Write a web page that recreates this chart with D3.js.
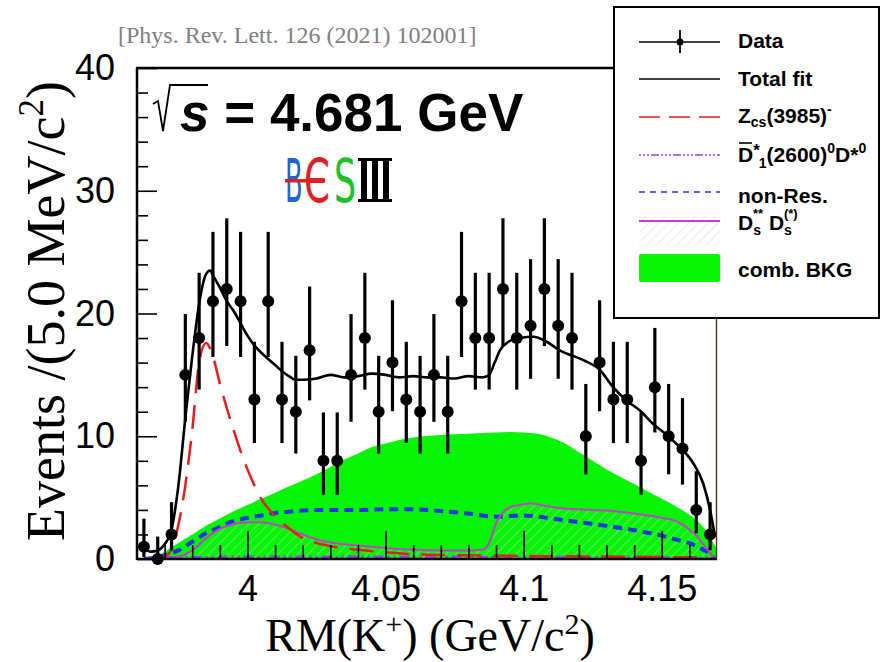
<!DOCTYPE html>
<html>
<head>
<meta charset="utf-8">
<script src="https://cdn.jsdelivr.net/npm/d3@7/dist/d3.min.js"></script>
<style>
  body { margin: 0; background: #fff; }
  svg text { font-family: "Liberation Sans", Arial, Helvetica, sans-serif; }
  .serif { font-family: "Liberation Serif", "Times New Roman", serif !important; }
</style>
</head>
<body>
<div id="chart"></div>
<script>
// ---- data ----
let binCenters = [3.9625, 3.9675, 3.9725, 3.9775, 3.9825, 3.9875, 3.9925, 3.9975, 4.0025, 4.0075,
                  4.0125, 4.0175, 4.0225, 4.0275, 4.0325, 4.0375, 4.0425, 4.0475, 4.0525, 4.0575,
                  4.0625, 4.0675, 4.0725, 4.0775, 4.0825, 4.0875, 4.0925, 4.0975, 4.1025, 4.1075,
                  4.1125, 4.1175, 4.1225, 4.1275, 4.1325, 4.1375, 4.1425, 4.1475, 4.1525, 4.1575,
                  4.1625, 4.1675];
let counts = [1, 0, 2, 15, 18, 21, 22, 21, 13, 21, 13, 12, 17, 8, 8, 15, 18, 12, 16, 13, 12,
              15, 12, 21, 18, 18, 22, 18, 19, 22, 19, 18, 10, 16, 13, 13, 8, 14, 10, 9, 4, 2];

let fitX = [3.9625, 3.965, 3.9675, 3.97, 3.9725, 3.975, 3.9775, 3.98, 3.9825, 3.985, 3.9865, 3.9875,
            3.99, 3.9925, 3.995, 3.9975, 4.0, 4.0025, 4.005, 4.0075, 4.01, 4.0125, 4.015, 4.0175,
            4.02, 4.025, 4.03, 4.035, 4.04, 4.045, 4.05, 4.055, 4.06, 4.065, 4.07, 4.075, 4.08,
            4.085, 4.0875, 4.0895, 4.0914, 4.0945, 4.0987, 4.1035, 4.1083, 4.1131, 4.1216, 4.1276,
            4.1324, 4.1373, 4.1421, 4.1469, 4.1518, 4.1566, 4.1614, 4.165, 4.1675, 4.1693];
let fitY = [0.9, 0.6, 0.7, 1.2, 2.4, 6.0, 11.5, 16.5, 20.8, 23.2, 23.5, 23.1,
            22.1, 21.0, 20.2, 19.2, 18.2, 17.4, 16.8, 16.3, 15.8, 15.3, 14.9, 14.6,
            14.6, 14.7, 15.0, 14.8, 14.9, 15.1, 15.0, 14.8, 14.9, 14.8, 14.8, 14.7, 14.9,
            14.8, 15.0, 16.0, 17.0, 17.7, 18.0, 18.1, 17.7, 17.0, 16.2, 15.4,
            14.0, 12.9, 12.1, 11.0, 10.1, 9.1, 7.8, 6.15, 4.0, 1.8];

let zcsX = [3.966, 3.97, 3.9725, 3.975, 3.9775, 3.98, 3.9825, 3.985, 3.9875, 3.99, 3.9925, 3.995,
            3.9975, 4.0, 4.0025, 4.005, 4.01, 4.015, 4.02, 4.025, 4.03, 4.04, 4.05, 4.06, 4.08,
            4.1, 4.13, 4.16, 4.169];
let zcsY = [0, 0.2, 0.8, 2.8, 6.0, 10.5, 16.0, 17.6, 16.5, 14.3, 12.3, 10.5,
            8.8, 7.3, 6.0, 4.9, 3.5, 2.5, 1.7, 1.3, 1.05, 0.75, 0.55, 0.4, 0.3,
            0.25, 0.2, 0.12, 0];

let bkgX = [3.9625, 3.966, 3.97, 3.975, 3.98, 3.985, 3.99, 3.995, 4.0, 4.005, 4.01, 4.015, 4.02,
            4.025, 4.03, 4.035, 4.04, 4.045, 4.05, 4.055, 4.06, 4.07, 4.08, 4.09, 4.095, 4.1,
            4.105, 4.11, 4.115, 4.12, 4.125, 4.13, 4.135, 4.14, 4.145, 4.15, 4.155, 4.16, 4.165,
            4.1675, 4.17];
let bkgY = [0, 0.1, 0.6, 1.3, 2.0, 2.7, 3.3, 3.9, 4.4, 4.9, 5.4, 5.9, 6.4,
            6.9, 7.5, 8.1, 8.6, 9.1, 9.4, 9.7, 9.9, 10.1, 10.2, 10.3, 10.35, 10.3,
            10.2, 9.9, 9.4, 8.7, 8.0, 7.3, 6.7, 6.1, 5.5, 4.9, 4.3, 3.6, 2.6,
            1.8, 0.8];

let nonResX = [3.9625, 3.966, 3.97, 3.975, 3.98, 3.985, 3.99, 3.995, 4.0, 4.005, 4.01, 4.015,
               4.02, 4.03, 4.04, 4.05, 4.06, 4.07, 4.08, 4.09, 4.1, 4.11, 4.12, 4.13, 4.14,
               4.15, 4.155, 4.16, 4.165, 4.1675, 4.169];
let nonResY = [0, 0.1, 0.3, 0.7, 1.4, 2.1, 2.6, 3.1, 3.35, 3.55, 3.75, 3.85,
               3.95, 4.0, 4.0, 4.05, 4.05, 3.9, 3.7, 3.45, 3.55, 3.3, 3.0, 2.7, 2.35,
               1.9, 1.6, 1.3, 0.75, 0.4, 0];

let dsX = [3.9625, 3.97, 3.975, 3.98, 3.985, 3.99, 3.995, 4.0, 4.005, 4.01, 4.015, 4.02, 4.025,
           4.03, 4.04, 4.05, 4.06, 4.07, 4.08, 4.085, 4.0875, 4.09, 4.0925, 4.095, 4.1, 4.1025,
           4.105, 4.11, 4.115, 4.12, 4.13, 4.14, 4.15, 4.155, 4.16, 4.1625, 4.165, 4.1675, 4.169];
let dsY = [0, 0.1, 0.2, 0.7, 1.7, 2.45, 2.85, 3.0, 3.0, 2.8, 2.45, 2.0, 1.6,
           1.35, 1.1, 0.9, 0.75, 0.7, 0.7, 0.75, 1.3, 2.9, 3.8, 4.2, 4.45, 4.55,
           4.45, 4.25, 4.1, 4.05, 3.95, 3.7, 3.35, 3.1, 2.4, 1.9, 1.2, 0.5, 0];

let d1X = [3.966, 4.0, 4.05, 4.1, 4.169];
let d1Y = [0.05, 0.12, 0.12, 0.1, 0.05];

let xMajor = [4, 4.05, 4.1, 4.15];
let xMinor = [3.97, 3.98, 3.99, 4.01, 4.02, 4.03, 4.04, 4.06, 4.07, 4.08, 4.09, 4.11, 4.12, 4.13, 4.14, 4.16];
let yMajor = [0, 10, 20, 30, 40];
let yMinor = [2, 4, 6, 8, 12, 14, 16, 18, 22, 24, 26, 28, 32, 34, 36, 38];

// ---- layout ----
let width = 881, height = 662;
let svg = d3.select("#chart").append("svg")
  .attr("width", width)
  .attr("height", height)
  .style("background", "#fff");

let x = d3.scaleLinear().domain([3.96, 4.17]).range([137, 717]);
let y = d3.scaleLinear().domain([0, 40]).range([559, 68]);

function pts(xs, ys) { return xs.map((v, i) => [v, ys[i]]); }

let line = d3.line().x(d => x(d[0])).y(d => y(d[1])).curve(d3.curveMonotoneX);
let area = d3.area().x(d => x(d[0])).y0(y(0)).y1(d => y(d[1])).curve(d3.curveMonotoneX);

let defs = svg.append("defs");
let pat = defs.append("pattern")
  .attr("id", "hatch")
  .attr("patternUnits", "userSpaceOnUse")
  .attr("width", 7).attr("height", 7)
  .attr("patternTransform", "rotate(45)");
pat.append("line").attr("x1", 0).attr("y1", 0).attr("x2", 0).attr("y2", 7)
  .attr("stroke", "#d8d0dc").attr("stroke-width", 1.2).attr("opacity", 0.75);

let clip = defs.append("clipPath").attr("id", "plotClip");
clip.append("rect").attr("x", 137).attr("y", 68).attr("width", 580).attr("height", 491);

let plot = svg.append("g").attr("clip-path", "url(#plotClip)");

// comb. BKG
plot.append("path")
  .attr("d", area(pts(bkgX, bkgY)))
  .attr("fill", "#05f505");

// Ds** Ds(*) hatched
plot.append("path")
  .attr("d", area(pts(dsX, dsY)))
  .attr("fill", "url(#hatch)");

// non-Res
plot.append("path")
  .attr("d", line(pts(nonResX, nonResY)))
  .attr("fill", "none").attr("stroke", "#1f35e0").attr("stroke-width", 4)
  .attr("stroke-dasharray", "9,6");

plot.append("path")
  .attr("d", line(pts(dsX, dsY)))
  .attr("fill", "none").attr("stroke", "#c040c8").attr("stroke-width", 2);

// D1*(2600) D*
plot.append("path")
  .attr("d", line(pts(d1X, d1Y)))
  .attr("fill", "none").attr("stroke", "#9a40f0").attr("stroke-width", 4)
  .attr("stroke-dasharray", "2,4,2,4,10,4");

// Zcs
plot.append("path")
  .attr("d", line(pts(zcsX, zcsY)))
  .attr("fill", "none").attr("stroke", "#e41e1e").attr("stroke-width", 2.5)
  .attr("stroke-dasharray", "24,12");

// total fit
plot.append("path")
  .attr("d", line(pts(fitX, fitY)))
  .attr("fill", "none").attr("stroke", "#000").attr("stroke-width", 2.6);

// data with Poisson (Gehrels) error bars
let dataPts = binCenters.map((v, i) => {
  let n = counts[i];
  let up = (n + 1) * Math.pow(1 - 1 / (9 * (n + 1)) + 1 / (3 * Math.sqrt(n + 1)), 3);
  let lo = n === 0 ? 0 : n * Math.pow(1 - 1 / (9 * n) - 1 / (3 * Math.sqrt(n)), 3);
  return { x: v, n: n, up: up, lo: lo };
});

let dataG = svg.append("g");
dataG.selectAll("line.err")
  .data(dataPts)
  .join("line")
  .attr("class", "err")
  .attr("x1", d => x(d.x)).attr("x2", d => x(d.x))
  .attr("y1", d => y(d.lo)).attr("y2", d => y(d.up))
  .attr("stroke", "#000").attr("stroke-width", 3.2);
dataG.selectAll("circle")
  .data(dataPts)
  .join("circle")
  .attr("cx", d => x(d.x)).attr("cy", d => y(d.n))
  .attr("r", 6)
  .attr("fill", "#000");

// ---- axes ----
let xAxis = d3.axisBottom(x).tickValues(xMajor).tickSizeInner(-28).tickSizeOuter(0).tickPadding(16)
  .tickFormat(d3.format("~g"));
let gx = svg.append("g").attr("transform", "translate(0,559)").call(xAxis);
gx.select(".domain").remove();
gx.selectAll("line").attr("stroke", "#000").attr("stroke-width", 1.6);
gx.selectAll("text").attr("font-size", 36).attr("fill", "#000");

let gxm = svg.append("g").attr("transform", "translate(0,559)")
  .call(d3.axisBottom(x).tickValues(xMinor).tickSizeInner(-14).tickSizeOuter(0).tickFormat(""));
gxm.select(".domain").remove();
gxm.selectAll("line").attr("stroke", "#000").attr("stroke-width", 1.6);

let yAxis = d3.axisLeft(y).tickValues(yMajor).tickSizeInner(-20).tickSizeOuter(0).tickPadding(22);
let gy = svg.append("g").attr("transform", "translate(137,0)").call(yAxis);
gy.select(".domain").remove();
gy.selectAll("line").attr("stroke", "#000").attr("stroke-width", 1.6);
gy.selectAll("text").attr("font-size", 36).attr("fill", "#000");

let gym = svg.append("g").attr("transform", "translate(137,0)")
  .call(d3.axisLeft(y).tickValues(yMinor).tickSizeInner(-11).tickSizeOuter(0).tickFormat(""));
gym.select(".domain").remove();
gym.selectAll("line").attr("stroke", "#000").attr("stroke-width", 1.6);

// frame
svg.append("line").attr("x1", 137).attr("x2", 717).attr("y1", 559).attr("y2", 559)
  .attr("stroke", "#000").attr("stroke-width", 2.5);
svg.append("line").attr("x1", 137).attr("x2", 137).attr("y1", 68).attr("y2", 560)
  .attr("stroke", "#000").attr("stroke-width", 2.5);
svg.append("line").attr("x1", 136).attr("x2", 717).attr("y1", 68).attr("y2", 68)
  .attr("stroke", "#000").attr("stroke-width", 2.5);
svg.append("line").attr("x1", 716.5).attr("x2", 716.5).attr("y1", 68).attr("y2", 559)
  .attr("stroke", "#5a2a2a").attr("stroke-width", 1.4);

// axis titles
let xt = svg.append("text").attr("class", "serif")
  .attr("x", 430).attr("y", 651).attr("text-anchor", "middle")
  .attr("font-size", 46).attr("fill", "#000");
xt.append("tspan").text("RM(K");
xt.append("tspan").attr("dy", -17).attr("font-size", 30).text("+");
xt.append("tspan").attr("dy", 17).text(") (GeV/c");
xt.append("tspan").attr("dy", -17).attr("font-size", 30).text("2");
xt.append("tspan").attr("dy", 17).text(")");

let yt = svg.append("text").attr("class", "serif")
  .attr("transform", "translate(64,311) rotate(-90)")
  .attr("text-anchor", "middle")
  .attr("font-size", 54).attr("fill", "#000");
yt.append("tspan").text("Events /(5.0 MeV/c");
yt.append("tspan").attr("dy", -21).attr("font-size", 35).text("2");
yt.append("tspan").attr("dy", 21).text(")");

// reference
svg.append("text").attr("class", "serif")
  .attr("x", 118).attr("y", 43)
  .attr("font-size", 24).attr("fill", "#808080")
  .text("[Phys. Rev. Lett. 126 (2021) 102001]");

// energy label
svg.append("path")
  .attr("d", "M153,104 L158,101 L163,131 L170,85 L208,85")
  .attr("fill", "none").attr("stroke", "#000").attr("stroke-width", 1.8);
let en = svg.append("text").attr("x", 180).attr("y", 131)
  .attr("font-size", 53).attr("font-weight", "bold").attr("fill", "#000");
en.append("tspan").attr("font-style", "italic").text("s");
en.append("tspan").text(" = 4.681 GeV");

// BESIII logo, letters squeezed horizontally
let logo = svg.append("g").style("font-family", "'DejaVu Sans', sans-serif");
let logoLetters = [
  { ch: "B", x: 285, sx: 0.43, color: "#1c64d8" },
  { ch: "Є", x: 304, sx: 0.62, color: "#e0201e" },
  { ch: "S", x: 334, sx: 0.58, color: "#1fbf2a" }
];
logoLetters.forEach(l => {
  logo.append("text")
    .attr("transform", "translate(" + l.x + ",202) scale(" + l.sx + ",1)")
    .attr("font-size", 60).attr("fill", l.color)
    .style("font-family", "'DejaVu Sans', sans-serif")
    .text(l.ch);
});
logo.append("rect").attr("x", 285).attr("y", 179).attr("width", 40).attr("height", 3.5).attr("fill", "#e0201e");
logo.append("rect").attr("x", 358).attr("y", 158).attr("width", 34).attr("height", 3).attr("fill", "#000");
logo.append("rect").attr("x", 358).attr("y", 199).attr("width", 34).attr("height", 3).attr("fill", "#000");
[361, 372, 383].forEach(px => {
  logo.append("rect").attr("x", px).attr("y", 158).attr("width", 6).attr("height", 44).attr("fill", "#000");
});

// ---- legend ----
let lg = svg.append("g");
lg.append("rect").attr("x", 614).attr("y", 7).attr("width", 265).attr("height", 311)
  .attr("fill", "#fff").attr("stroke", "#000").attr("stroke-width", 2);

let lx1 = 639, lx2 = 720, tx = 738;
let lfont = 21;

// Data
lg.append("line").attr("x1", lx1).attr("x2", lx2).attr("y1", 42).attr("y2", 42).attr("stroke", "#000").attr("stroke-width", 1.5);
lg.append("line").attr("x1", 680).attr("x2", 680).attr("y1", 30).attr("y2", 53).attr("stroke", "#000").attr("stroke-width", 1.8);
lg.append("circle").attr("cx", 680).attr("cy", 42).attr("r", 3.5).attr("fill", "#000");
// Total fit
lg.append("line").attr("x1", lx1).attr("x2", lx2).attr("y1", 79).attr("y2", 79).attr("stroke", "#000").attr("stroke-width", 1.5);
// Zcs
lg.append("line").attr("x1", lx1).attr("x2", lx2).attr("y1", 117).attr("y2", 117).attr("stroke", "#e41e1e").attr("stroke-width", 1.5)
  .attr("stroke-dasharray", "21,9");
// D1*
lg.append("line").attr("x1", lx1).attr("x2", lx2).attr("y1", 155).attr("y2", 155).attr("stroke", "#9a40f0").attr("stroke-width", 1.5)
  .attr("stroke-dasharray", "2,2,2,2,2,2,8,2");
// non-Res
lg.append("line").attr("x1", lx1).attr("x2", lx2).attr("y1", 192).attr("y2", 192).attr("stroke", "#1f35e0").attr("stroke-width", 1.5)
  .attr("stroke-dasharray", "6,5");
// Ds
lg.append("rect").attr("x", lx1).attr("y", 216).attr("width", lx2 - lx1).attr("height", 30).attr("fill", "url(#hatch)");
lg.append("line").attr("x1", lx1).attr("x2", lx2).attr("y1", 221).attr("y2", 221).attr("stroke", "#c040c8").attr("stroke-width", 2);
// comb BKG
lg.append("rect").attr("x", lx1).attr("y", 254).attr("width", lx2 - lx1).attr("height", 28).attr("rx", 2).attr("fill", "#05f505");

function ltext(yy) {
  return lg.append("text").attr("x", tx).attr("y", yy).attr("font-size", lfont)
    .attr("font-weight", "bold").attr("fill", "#000");
}
ltext(48).text("Data");
ltext(86).text("Total fit");

let t3 = ltext(123);
t3.append("tspan").text("Z");
t3.append("tspan").attr("dy", 4).attr("font-size", 14).text("cs");
t3.append("tspan").attr("dy", -4).text("(3985)");
t3.append("tspan").attr("dy", -9).attr("font-size", 14).text("-");

let t4 = ltext(162);
t4.append("tspan").text("D");
t4.append("tspan").attr("dy", -6).attr("font-size", 17).text("*");
t4.append("tspan").attr("dy", 12).attr("dx", -1).attr("font-size", 14).text("1");
t4.append("tspan").attr("dy", -6).text("(2600)");
t4.append("tspan").attr("dy", -9).attr("font-size", 14).text("0");
t4.append("tspan").attr("dy", 9).text("D*");
t4.append("tspan").attr("dy", -9).attr("font-size", 14).text("0");
lg.append("line").attr("x1", tx + 1).attr("x2", tx + 14).attr("y1", 143).attr("y2", 143).attr("stroke", "#000").attr("stroke-width", 1.6);

ltext(203).text("non-Res.");

let t6 = ltext(230);
t6.append("tspan").text("D");
t6.append("tspan").attr("dy", 5).attr("font-size", 14).text("s");
t6.append("tspan").attr("dy", -17).attr("dx", -8).attr("font-size", 13).text("**");
t6.append("tspan").attr("dy", 12).text(" D");
t6.append("tspan").attr("dy", 5).attr("font-size", 14).text("s");
t6.append("tspan").attr("dy", -17).attr("dx", -8).attr("font-size", 13).text("(*)");

ltext(277).text("comb. BKG");
</script>
</body>
</html>
